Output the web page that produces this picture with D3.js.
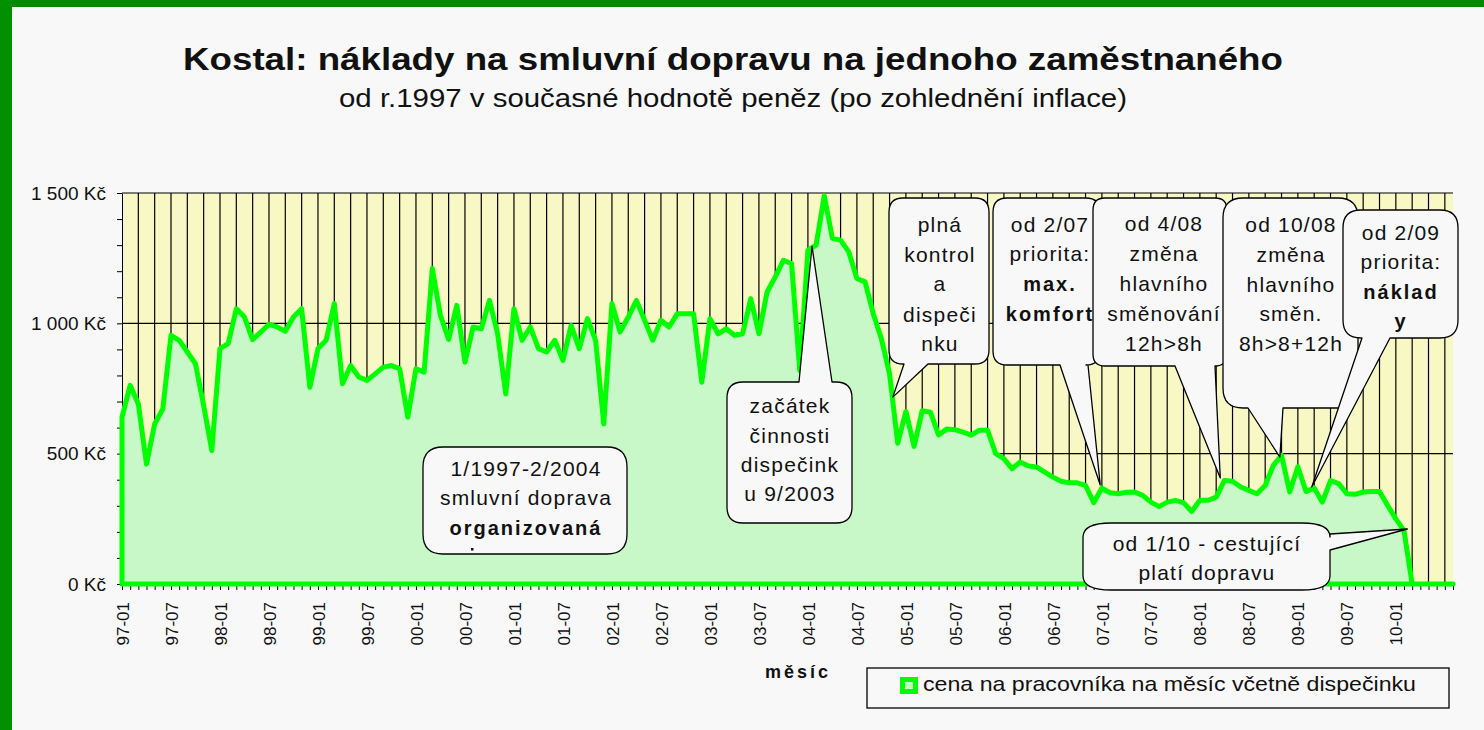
<!DOCTYPE html>
<html><head><meta charset="utf-8">
<script src="https://cdn.jsdelivr.net/npm/d3@7"></script>
<style>
body{margin:0;background:#f8f8f8;overflow:hidden}
text{font-family:"Liberation Sans",Arial,Helvetica,sans-serif}
</style>
</head><body>
<svg id="c" width="1484" height="730"></svg>
<script>
// ---------- DATA ----------
const categories = [];
for (let yr = 1997; yr <= 2010; yr++) {
  for (let mo = 1; mo <= 12; mo++) {
    if (categories.length < 164) categories.push(String(yr % 100).padStart(2, "0") + "-" + String(mo).padStart(2, "0"));
  }
}
const values = [
  640, 762, 691, 460, 614, 672, 954, 935, 890, 845,
  685, 512, 903, 922, 1056, 1024, 937, 967, 996, 986,
  970, 1024, 1056, 755, 903, 935, 1076, 768, 838, 794,
  781, 806, 832, 838, 826, 640, 826, 813, 1210, 1030,
  938, 1069, 851, 986, 979, 1088, 960, 729, 1056, 935,
  986, 903, 890, 935, 858, 992, 903, 1018, 935, 614,
  1076, 967, 1024, 1088, 1012, 935, 1012, 986, 1037, 1037,
  1037, 774, 1018, 960, 979, 954, 960, 1095, 960, 1120,
  1178, 1242, 1229, 819, 1281, 1300, 1490, 1326, 1319, 1274,
  1172, 1159, 1037, 941, 806, 540, 662, 528, 665, 659,
  572, 595, 592, 583, 571, 590, 590, 500, 481, 442,
  468, 453, 449, 429, 410, 394, 388, 388, 378, 312,
  368, 350, 346, 352, 353, 340, 314, 297, 314, 321,
  312, 278, 321, 321, 333, 397, 394, 372, 359, 346,
  378, 455, 494, 353, 450, 355, 368, 314, 397, 385,
  346, 344, 353, 355, 355, 301, 250, 205, 0, 0,
  0, 0, 0, 0
];
const xTickLabels = ["97-01","97-07","98-01","98-07","99-01","99-07","00-01","00-07","01-01","01-07",
  "02-01","02-07","03-01","03-07","04-01","04-07","05-01","05-07","06-01","06-07",
  "07-01","07-07","08-01","08-07","09-01","09-07","10-01"];
const yTickValues = [0, 500, 1000, 1500];
const yTickLabels = ["0 Kč", "500 Kč", "1 000 Kč", "1 500 Kč"];
const seriesName = "cena na pracovníka na měsíc včetně dispečinku";
const titleText = "Kostal: náklady na smluvní dopravu na jednoho zaměstnaného";
const subtitleText = "od r.1997 v současné hodnotě peněz (po zohlednění inflace)";
const xAxisTitle = "měsíc";

// callouts: text lines, tail anchor in data space (month index, value)
const callouts = [
  {box:[423,447,204,107], r:[20,20], cx:526, lines:[["1/1997-2/2004",476],["smluvní doprava",505],["organizovaná",535,1]]},
  {box:[727,382,125,141], r:[16,16], cx:790, tail:{side:"top",a:799,b:832,mi:84.5,v:1296},
    lines:[["začátek",413],["činnosti",443],["dispečink",472],["u 9/2003",501]]},
  {box:[889,198,100,166], r:[14,14], cx:940, tail:{side:"bottom",a:928,b:904,mi:94.4,v:717},
    lines:[["plná",232],["kontrol",262],["a",291],["dispeči",322],["nku",351]]},
  {box:[993,198,107,167], r:[14,14], cx:1050, tail:{side:"bottom",a:1088,b:1060,mi:119.8,v:380},
    lines:[["od 2/07",232],["priorita:",261],["max.",291,1],["komfort",321,1]]},
  {box:[1093,198,134,168], r:[12,12], cx:1164, tail:{side:"bottom",a:1215,b:1175,mi:134.5,v:407},
    lines:[["od 4/08",231],["změna",261],["hlavního",291],["směnování",321],["12h>8h",351]]},
  {box:[1223,198,135,210], r:[20,20], cx:1291, tail:{side:"bottom",a:1283,b:1248,mi:141.8,v:487},
    lines:[["od 10/08",232],["změna",262],["hlavního",292],["směn.",321],["8h>8+12h",351]]},
  {box:[1343,210,115,128], r:[18,18], cx:1401, tail:{side:"bottom",a:1390,b:1362,mi:145.7,v:372},
    lines:[["od 2/09",240],["priorita:",269],["náklad",299,1],["y",328,1]]},
  {box:[1083,523,247,67], r:[28,14], cx:1207, tail:{side:"right",a:534,b:550,mi:157.4,v:211},
    lines:[["od 1/10 - cestující",551],["platí dopravu",580]]}
];

// ---------- DRAW ----------
const svg = d3.select("#c");
svg.append("rect").attr("width",1484).attr("height",730).attr("fill","#f8f8f8");
svg.append("rect").attr("x",0).attr("y",0).attr("width",1484).attr("height",7).attr("fill","#008a00");
svg.append("rect").attr("x",0).attr("y",0).attr("width",12).attr("height",730).attr("fill","#009000");

const x = d3.scalePoint().domain(categories).range([122, 1453]);
const y = d3.scaleLinear().domain([0, 1500]).range([584, 193]);
const step = x.step();
const at = (mi, v) => [x(categories[0]) + mi * step, y(v)];

// title
svg.append("text").attr("x",733).attr("y",70).attr("text-anchor","middle")
  .attr("font-size",31).attr("font-weight","bold").attr("fill","#111")
  .attr("textLength",1100).attr("lengthAdjust","spacingAndGlyphs").text(titleText);
svg.append("text").attr("x",733).attr("y",107).attr("text-anchor","middle")
  .attr("font-size",25).attr("fill","#111")
  .attr("textLength",788).attr("lengthAdjust","spacingAndGlyphs").text(subtitleText);

// plot background
svg.append("rect").attr("x",x.range()[0]).attr("y",y(1500))
  .attr("width",x.range()[1]-x.range()[0]).attr("height",y(0)-y(1500)).attr("fill","#f8f8c4");

// gridlines
svg.append("g").selectAll("line").data(categories.filter((c,i)=> i>0 && i%2===0)).join("line")
  .attr("x1",d=>x(d)).attr("x2",d=>x(d)).attr("y1",y(0)).attr("y2",y(1500))
  .attr("stroke","#000").attr("stroke-width",1.2);
svg.append("g").selectAll("line").data([500,1000,1500]).join("line")
  .attr("x1",x.range()[0]).attr("x2",x.range()[1]).attr("y1",d=>y(d)).attr("y2",d=>y(d))
  .attr("stroke","#000").attr("stroke-width",1.2);

// axes
const yAxis = svg.append("g").attr("transform",`translate(${x.range()[0]},0)`)
  .call(d3.axisLeft(y).tickValues(d3.range(0,1501,100)).tickSize(5).tickSizeOuter(0).tickPadding(11)
    .tickFormat(v => { const i = yTickValues.indexOf(v); return i >= 0 ? yTickLabels[i] : ""; }));
yAxis.selectAll("text").attr("font-size",19).attr("fill","#111").attr("font-family","Liberation Sans, Arial, sans-serif");
yAxis.selectAll("line,path").attr("stroke","#000");

const xAxis = svg.append("g").attr("transform",`translate(0,${y(0)})`)
  .call(d3.axisBottom(x).tickSize(6).tickSizeOuter(0)
    .tickFormat(c => xTickLabels.includes(c) ? c : ""));
xAxis.selectAll("text").attr("font-size",17).attr("fill","#111").attr("font-family","Liberation Sans, Arial, sans-serif")
  .attr("transform","rotate(-90)").attr("text-anchor","end").attr("x",-18).attr("y",0).attr("dy","0.36em");
xAxis.selectAll("line,path").attr("stroke","#000");

// area series
const area = d3.area().x((d,i)=>x(categories[i])).y0(y(0)).y1(d=>y(d));
svg.append("path").datum(values).attr("d",area)
  .attr("fill","#c8f8c8").attr("stroke","#00ff00").attr("stroke-width",5)
  .attr("stroke-linejoin","round");

// callouts
function balloonPath(c) {
  const [bx,by,bw,bh] = c.box, [rx,ry] = c.r, x2 = bx+bw, y2 = by+bh, t = c.tail;
  const p = d3.path();
  let ap = t ? at(t.mi, t.v) : null;
  p.moveTo(bx+rx, by);
  if (t && t.side==="top") { p.lineTo(t.a, by); p.lineTo(ap[0], ap[1]); p.lineTo(t.b, by); }
  p.lineTo(x2-rx, by); p.quadraticCurveTo(x2, by, x2, by+ry);
  if (t && t.side==="right") { p.lineTo(x2, t.a); p.lineTo(ap[0], ap[1]); p.lineTo(x2, t.b); }
  p.lineTo(x2, y2-ry); p.quadraticCurveTo(x2, y2, x2-rx, y2);
  if (t && t.side==="bottom") { p.lineTo(t.a, y2); p.lineTo(ap[0], ap[1]); p.lineTo(t.b, y2); }
  p.lineTo(bx+rx, y2); p.quadraticCurveTo(bx, y2, bx, y2-ry);
  p.lineTo(bx, by+ry); p.quadraticCurveTo(bx, by, bx+rx, by);
  p.closePath();
  return p.toString();
}
const cg = svg.append("g");
callouts.forEach(c => {
  const g = cg.append("g");
  g.append("path").attr("d", balloonPath(c)).attr("fill","#f8f8f8")
    .attr("stroke","#000").attr("stroke-width",1.3).attr("stroke-linejoin","round");
  c.lines.forEach(l => {
    g.append("text").attr("x", c.cx).attr("y", l[1]).attr("text-anchor","middle")
      .attr("font-size", l[2] ? 20 : 21).attr("font-weight", l[2] ? "bold" : "normal")
      .attr("letter-spacing", l[2] ? 2 : 1.2).attr("fill","#111").text(l[0]);
  });
});
// small stray mark under first callout text
cg.append("rect").attr("x",471).attr("y",548).attr("width",2.5).attr("height",2.5).attr("fill","#111");

// axis title
svg.append("text").attr("x",798).attr("y",678).attr("text-anchor","middle")
  .attr("font-size",18).attr("font-weight","bold").attr("letter-spacing",3).attr("fill","#111").text(xAxisTitle);

// legend
const lg = svg.append("g");
lg.append("rect").attr("x",867).attr("y",668).attr("width",582).attr("height",40)
  .attr("fill","#f8f8f8").attr("stroke","#000").attr("stroke-width",1.3);
lg.append("rect").attr("x",902.5).attr("y",679.5).attr("width",13).attr("height",12)
  .attr("fill","#c8f8c8").attr("stroke","#00ff00").attr("stroke-width",5);
lg.append("text").attr("x",923).attr("y",691).attr("font-size",21).attr("fill","#111")
  .attr("textLength",493).attr("lengthAdjust","spacingAndGlyphs").text(seriesName);
</script>
</body></html>
